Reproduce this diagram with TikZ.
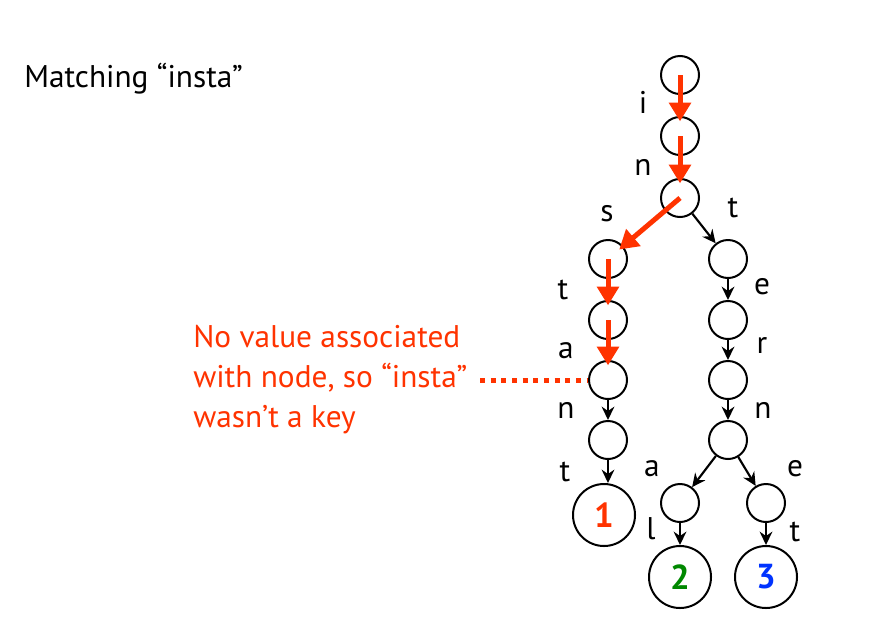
\documentclass[tikz,border=0pt]{standalone}
\usepackage{fontspec}
\setmainfont{PT Sans}
\usetikzlibrary{arrows.meta}
\definecolor{hitred}{RGB}{255,51,0}
\definecolor{valgreen}{RGB}{0,136,0}
\definecolor{valblue}{RGB}{0,51,255}

\begin{document}
\begin{tikzpicture}
            [
            x=0.75pt, y=-0.75pt,
            every node/.style={font=\fontsize{23.5}{30}\selectfont},
            vertex/.style={circle,draw,line width=1.5pt,minimum size=28.5pt,inner sep=0pt},
            leaf/.style={vertex,minimum size=46.5pt,font=\fontsize{26}{30}\selectfont\bfseries},
            edge/.style={-{Stealth[length=10pt,width=9.5pt]},line width=1.6pt},
            hit/.style={-{Triangle[length=14pt,width=16pt]},line width=3.75pt,hitred,shorten >=-4pt},
            lbl/.style={anchor=base,inner sep=0pt}
            ]
        \useasboundingbox (0,0) rectangle (880,636);
        % tree
        \node[vertex] (root) at (680,75) {};
        \node[vertex] (i) at (680,136) {};
        \node[vertex] (in) at (680,198) {};
        \node[vertex] (ins) at (608,259) {};
        \node[vertex] (inst) at (608,320) {};
        \node[vertex] (insta) at (608,380) {};
        \node[vertex] (instan) at (608,440) {};
        \node[leaf] (instant) at (604,515) {\textcolor{hitred}{1}};
        \node[vertex] (int) at (728,259) {};
        \node[vertex] (inte) at (728,320) {};
        \node[vertex] (inter) at (728,380) {};
        \node[vertex] (intern) at (728,440) {};
        \node[vertex] (interna) at (680,503) {};
        \node[vertex] (interne) at (766,503) {};
        \node[leaf] (internal) at (680,577) {\textcolor{valgreen}{2}};
        \node[leaf] (internet) at (766,577) {\textcolor{valblue}{3}};
        % edge letters
        \node[lbl] (li) at (643,113) {i};
        \node[lbl] (ln) at (643,175) {n};
        \node[lbl] (ls) at (607,221) {s};
        \node[lbl] (lt) at (733,217) {t};
        \node[lbl] (lst) at (563,299) {t};
        \node[lbl] (lte) at (762,294) {e};
        \node[lbl] (lsa) at (566,358) {a};
        \node[lbl] (ler) at (762,353) {r};
        \node[lbl] (lan) at (566,418) {n};
        \node[lbl] (lrn) at (763,418) {n};
        \node[lbl] (lnt) at (565,481) {t};
        \node[lbl] (lna) at (652,476) {a};
        \node[lbl] (lne) at (795,476) {e};
        \node[lbl] (lal) at (651,539) {l};
        \node[lbl] (let) at (795,541) {t};
        % path of the search
        \draw[hit] (root.center) -- (i);
        \draw[hit] (i.center) -- (in);
        \draw[hit] (in.center) -- (ins);
        \draw[hit] (ins.center) -- (inst);
        \draw[hit] (inst.center) -- (insta);
        % rest of the trie
        \draw[edge] (in) -- (int);
        \draw[edge] (int) -- (inte);
        \draw[edge] (inte) -- (inter);
        \draw[edge] (inter) -- (intern);
        \draw[edge] (intern) -- (interna);
        \draw[edge] (intern) -- (interne);
        \draw[edge] (interna) -- (internal);
        \draw[edge] (interne) -- (internet);
        \draw[edge] (insta) -- (instan);
        \draw[edge] (instan) -- (instan |- instant.north);
        % text
        \node[anchor=base west,inner sep=0pt] (title) at (24,87) {Matching “insta”};
        \node[anchor=west,align=left,inner sep=0pt,text=hitred] (note) at (193,380)
            {No value associated\\with node, so “insta”\\wasn’t a key};
        \coordinate (noteend) at (480,380);
        \draw[hitred,line width=3.75pt,dash pattern=on 3.75pt off 4.25pt] (noteend) -- (insta);
        \end{tikzpicture}
\end{document}
